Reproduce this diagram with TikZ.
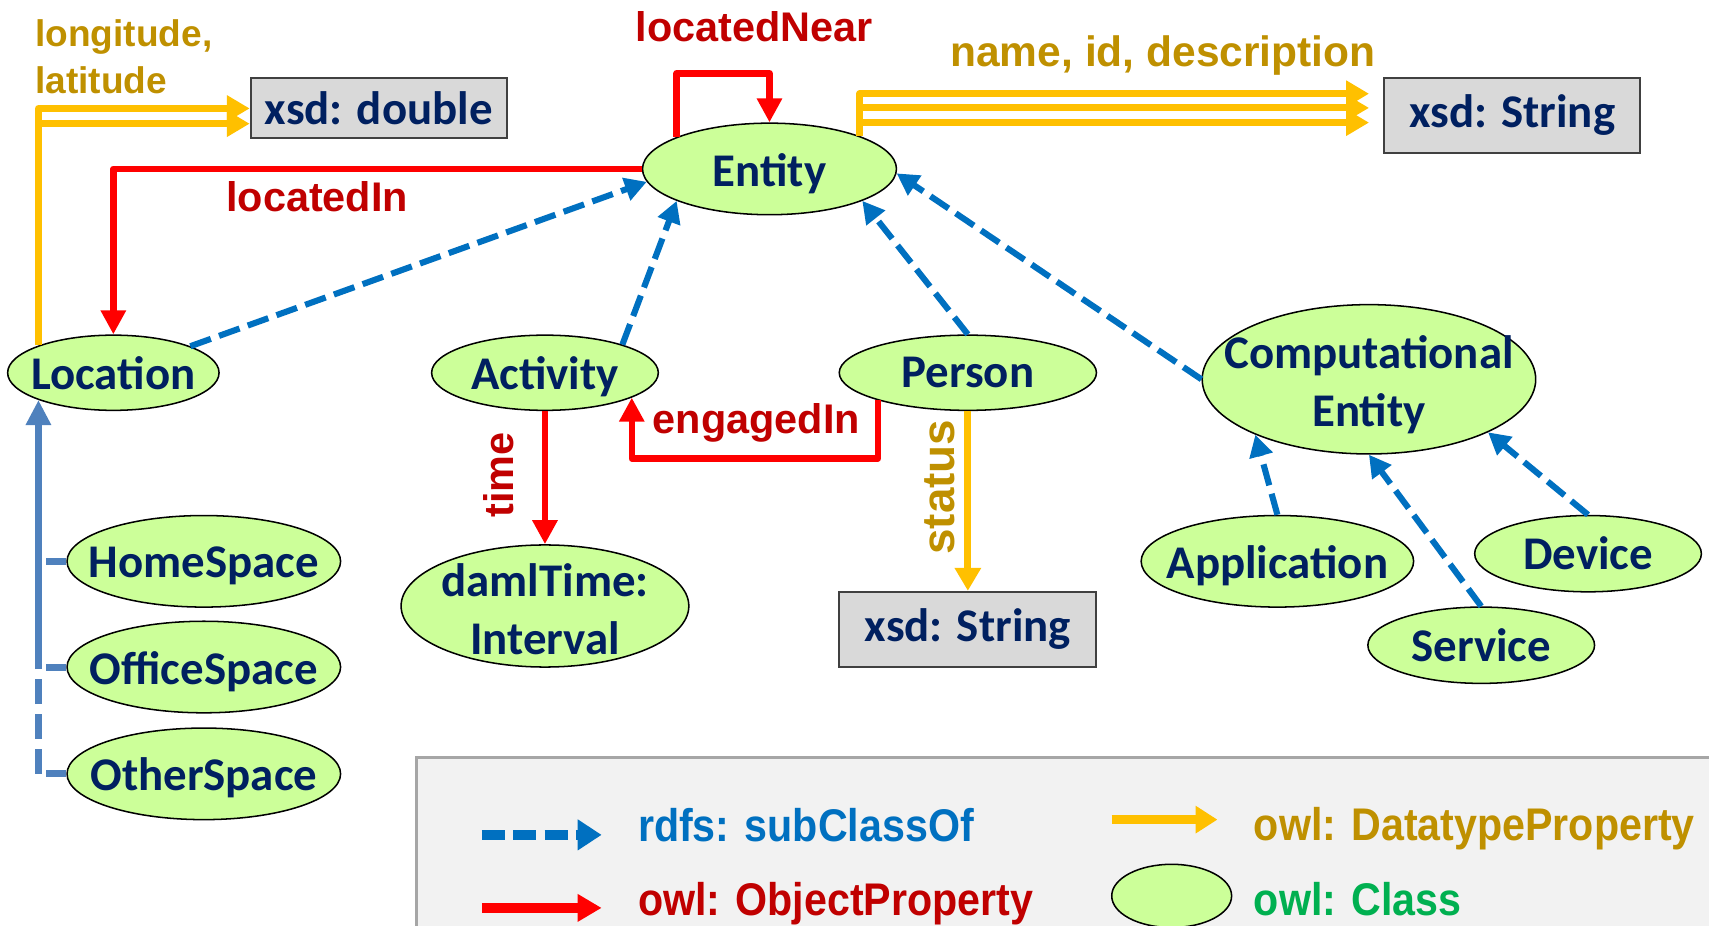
\documentclass[tikz,border=0pt]{standalone}
\usepackage{fontspec}
\setmainfont{Liberation Sans}
\newfontfamily\calfont{Carlito}
\newfontfamily\legfont{Liberation Sans}[FakeStretch=0.9]
\usetikzlibrary{shapes.geometric,arrows.meta,calc}
\definecolor{navy}{HTML}{002060}
\definecolor{clsfill}{HTML}{CCFF99}
\definecolor{boxfill}{HTML}{D9D9D9}
\definecolor{objred}{HTML}{FF0000}
\definecolor{objtxt}{HTML}{C00000}
\definecolor{dtyel}{HTML}{FFC000}
\definecolor{dttxt}{HTML}{BF9000}
\definecolor{subblue}{HTML}{0070C0}
\definecolor{trunkblue}{HTML}{4F81BD}
\definecolor{legbg}{HTML}{F2F2F2}
\definecolor{legframe}{HTML}{A6A6A6}
\definecolor{clsgreen}{HTML}{00B050}
\begin{document}
\begin{tikzpicture}[x=0.5pt,y=-0.5pt,
  cls/.style={ellipse, draw=black, line width=0.7pt, fill=clsfill, inner sep=0pt},
  clstxt/.style={text=navy, inner sep=0pt, align=center,
    font=\calfont\bfseries\fontsize{21.5}{26.5}\selectfont},
  desc/.style={yshift=-2pt},
  dtype/.style={rectangle, draw=black!75, line width=0.9pt, fill=boxfill, inner sep=0pt, text=navy,
    font=\calfont\bfseries\fontsize{21.5}{26}\selectfont},
  subcls/.style={subblue, line width=2.8pt, dash pattern=on 10pt off 4pt, -{Triangle[length=10pt,width=10.5pt]}},
  oprop/.style={objred, line width=3pt, line join=round, -{Triangle[length=11pt,width=11pt]}},
  dprop/.style={dtyel, line width=3.2pt, line join=round, -{Triangle[length=10.5pt,width=11.5pt]}},
  trunk/.style={trunkblue, line width=3.2pt},
  olabel/.style={text=objtxt, inner sep=0pt, font=\bfseries\fontsize{19}{22}\selectfont},
  dlabel/.style={text=dttxt, inner sep=0pt, font=\bfseries\fontsize{19.5}{22}\selectfont},
  legtext/.style={inner sep=0pt, anchor=base west, font=\legfont\bfseries\fontsize{21}{24}\selectfont},
  legbox/.style={fill=legbg, draw=legframe, line width=1.5pt}
]
\clip (0,0) rectangle (1568,849);
% legend background
\draw[legbox] (382,695) rectangle (1640,900);

% class nodes
\node[cls, minimum width=116.5pt, minimum height=42pt, label={[clstxt,desc]center:Entity}] (Entity) at (706,155) {};
\node[cls, minimum width=97pt, minimum height=34.5pt, label={[clstxt]center:Location}] (Location) at (104,342) {};
\node[cls, minimum width=104pt, minimum height=34.5pt, label={[clstxt,desc]center:Activity}] (Activity) at (500,342) {};
\node[cls, minimum width=118pt, minimum height=34.5pt, label={[clstxt]center:Person}] (Person) at (888,342) {};
\node[cls, minimum width=153pt, minimum height=68.5pt, label={[clstxt,yshift=-2.5pt]center:{Computational\\Entity}}] (CE) at (1256,348) {};
\node[cls, minimum width=132pt, minimum height=56pt, label={[clstxt,yshift=-1.5pt]center:{damlTime:\\Interval}}] (Interval) at (500,556) {};
\node[cls, minimum width=125pt, minimum height=42pt, label={[clstxt,desc]center:Application}] (Application) at (1172,515) {};
\node[cls, minimum width=104pt, minimum height=35pt, label={[clstxt]center:Device}] (Device) at (1457,508) {};
\node[cls, minimum width=104pt, minimum height=35pt, label={[clstxt]center:Service}] (Service) at (1359,592) {};
\node[cls, minimum width=125.5pt, minimum height=42pt, label={[clstxt,desc]center:HomeSpace}] (HomeSpace) at (187,515) {};
\node[cls, minimum width=125.5pt, minimum height=42pt, label={[clstxt,desc]center:OfficeSpace}] (OfficeSpace) at (187,612) {};
\node[cls, minimum width=125.5pt, minimum height=42pt, label={[clstxt,desc]center:OtherSpace}] (OtherSpace) at (187,710) {};

% datatype boxes
\node[dtype, minimum width=117.5pt, minimum height=27.5pt] (dbl) at (347.5,99.5) {xsd: double};
\node[dtype, minimum width=117.5pt, minimum height=34pt] (str1) at (1387.5,106) {xsd: String};
\node[dtype, minimum width=118pt, minimum height=34.5pt] (str2) at (888,577.5) {xsd: String};

% labels
\node[dlabel, font=\bfseries\fontsize{17}{20}\selectfont, anchor=base west] (lonlbl) at (32,43) {longitude,};
\node[dlabel, font=\bfseries\fontsize{17}{20}\selectfont, anchor=base west] (latlbl) at (32,86) {latitude};
\node[dlabel, anchor=base] (namelbl) at (1067,61) {name, id, description};
\node[olabel, anchor=base] (nearlbl) at (692,38) {locatedNear};
\node[olabel, anchor=base] (inlbl) at (291,194) {locatedIn};
\node[olabel, anchor=base] (englbl) at (694,398) {engagedIn};
\node[olabel, rotate=90] (timelbl) at (458,436) {time};
\node[dlabel, rotate=90, font=\bfseries\fontsize{21}{24}\selectfont] (statuslbl) at (862,447) {status};

% datatype properties
\coordinate (dblB) at ($(dbl.west)+(0,14)$);
\draw[dprop] (Location.160) |- (dbl.west);
\draw[dprop] (Location.160 |- dblB) -- (dblB);
\coordinate (sA) at ($(str1.west)+(-13,-20)$);
\coordinate (sB) at ($(str1.west)+(-13,-7)$);
\coordinate (sC) at ($(str1.west)+(-13,6.5)$);
\draw[dprop] (Entity.20) |- (sA);
\draw[dprop] (Entity.20 |- sB) -- (sB);
\draw[dprop] (Entity.20 |- sC) -- (sC);
\draw[dprop] (Person.south) -- (str2.north);

% object properties
\draw[oprop] (Entity.west) -| (Location.north);
\coordinate (nearTop) at ($(Entity.north)+(0,-45)$);
\draw[oprop] (Entity.161) |- (nearTop) -- (Entity.north);
\coordinate (engLow) at ($(Activity.south)+(0,43.5)$);
\draw[oprop] (Person.197) -- (Person.197 |- engLow) -| (Activity.344);
\draw[oprop] (Activity.south) -- (Interval.north);

% subclass relations
\draw[subcls] (Location.19) -- (Entity.186);
\draw[subcls] (Activity.20) -- (Entity.199);
\draw[subcls] (Person.north) -- (Entity.341);
\draw[subcls] (CE.west) -- (Entity.358);
\draw[subcls] (Application.north) -- (CE.206);
\draw[subcls] (Service.north) -- (CE.south);
\draw[subcls] (Device.north) -- (CE.336);

% location subtree
\coordinate (tTop) at (Location.200);
\coordinate (tOffice) at (tTop |- OfficeSpace.west);
\coordinate (tOther) at (tTop |- OtherSpace.west);
\draw[trunk, dash pattern=on 11.5pt off 4.5pt] (tOther) -- (tOffice);
\draw[trunk, -{Triangle[length=11.5pt,width=11pt]}] (tOffice) -- (tTop);
\draw[trunk] ($(tTop |- HomeSpace.west)+(7,0)$) -- (HomeSpace.west);
\draw[trunk] ($(tOffice)+(7,0)$) -- (OfficeSpace.west);
\draw[trunk] ($(tOther)+(7,0)$) -- (OtherSpace.west);

% legend
\coordinate (lsA) at (442,766); \coordinate (lsB) at (552,766);
\draw[subblue, line width=4.5pt, dash pattern=on 10.7pt off 3.7pt, -{Triangle[length=11pt,width=13.5pt]}] (lsA) -- (lsB);
\coordinate (loA) at (442,833); \coordinate (loB) at (552,833);
\draw[objred, line width=4.5pt, -{Triangle[length=11pt,width=12pt]}] (loA) -- (loB);
\coordinate (ldA) at (1020,752); \coordinate (ldB) at (1117,752);
\draw[dtyel, line width=3.8pt, -{Triangle[length=10pt,width=12pt]}] (ldA) -- (ldB);
\node[cls, minimum width=55pt, minimum height=29pt] (lcls) at (1075,822) {};
\node[legtext, text=subblue] (lsubtxt) at (585,772) {rdfs: subClassOf};
\node[legtext, text=objtxt] (lobjtxt) at (585,840) {owl: ObjectProperty};
\node[legtext, text=dttxt] (ldttxt) at (1150,771) {owl: DatatypeProperty};
\node[legtext, text=clsgreen] (lclstxt) at (1150,840) {owl: Class};
\end{tikzpicture}
\end{document}
